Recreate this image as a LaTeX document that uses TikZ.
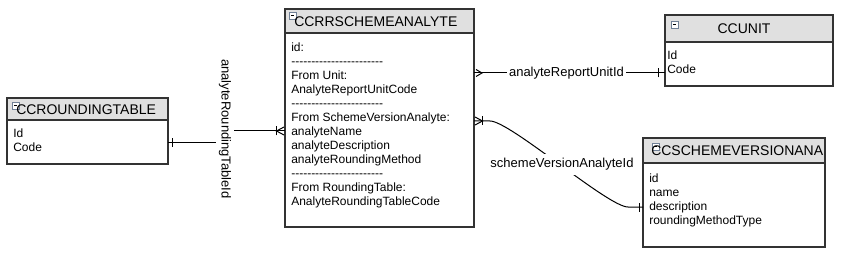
\documentclass[tikz,border=0pt]{standalone}
\usepackage{fontspec}
\setmainfont{Liberation Sans}
\usetikzlibrary{calc}
\definecolor{iconedge}{RGB}{112,128,150}
\newcommand\hy{-\kern0pt}
\newcommand\dashrow{\hy\hy\hy\hy\hy\hy\hy\hy\hy\hy\hy\hy\hy\hy\hy\hy\hy\hy\hy\hy\hy\hy\hy}
\tikzset{
 ent/.style={draw=black!80, line width=0.8pt, fill=white, inner sep=0pt, outer sep=0pt, anchor=north west},
 hdr/.style={ent, fill=black!12},
 htext/.style={font=\fontsize{10.5}{12}\selectfont, inner sep=0pt},
 ftext/.style={font=\fontsize{9}{10}\selectfont, inner sep=0pt, anchor=base west},
 conn/.style={draw=black, line width=0.75pt},
 lbl/.style={font=\fontsize{9.75}{11}\selectfont, fill=white, inner sep=1.5pt},
 pics/manyend/.style={code={\draw[conn] (2,-3.5) -- (8,0) -- (2,3.5);}},
 pics/onemanyend/.style={code={\draw[conn] (1,-4) -- (8.5,0) -- (1,4); \draw[conn] (8.5,-4.5) -- (8.5,4.5);}},
 pics/oneend/.style={code={\draw[conn] (#1,-4.5) -- (#1,4.5);}},
 pics/tgl/.style={code={\draw[draw=iconedge, fill=white, line width=0.5pt] (0,0) rectangle (7,7); \draw[line width=0.7pt] (1.8,3.5) -- (5.2,3.5);}},
}
\begin{document}
\begin{tikzpicture}[x=0.75pt,y=-0.75pt]
\useasboundingbox (0,0) rectangle (842,267);

% ---------- entities ----------
\node[ent, minimum width=161*0.75pt, minimum height=66*0.75pt] (rt) at (7,98) {};
\node[hdr, minimum width=161*0.75pt, minimum height=22*0.75pt] (rt-h) at (7,98) {};
\pic at (12,102) {tgl};
\node[htext, anchor=west] (rt-t) at (16,110) {CCROUNDINGTABLE};
\foreach \t [count=\i] in {Id,Code}
  \node[ftext] (rt-f\i) at (13,{137.3+14*(\i-1)}) {\t};

\node[ent, minimum width=189*0.75pt, minimum height=218*0.75pt] (sa) at (285,9) {};
\node[hdr, minimum width=189*0.75pt, minimum height=24*0.75pt] (sa-h) at (285,9) {};
\pic at (289,12) {tgl};
\node[htext, anchor=west] (sa-t) at (294,21.5) {CCRRSCHEMEANALYTE};
\foreach \t [count=\i] in {id:,\dashrow,From Unit:,AnalyteReportUnitCode,\dashrow,From SchemeVersionAnalyte:,analyteName,analyteDescription,analyteRoundingMethod,\dashrow,From RoundingTable:,AnalyteRoundingTableCode}
  \node[ftext] (sa-f\i) at (291,{51.3+14*(\i-1)}) {\t};

\node[ent, minimum width=168*0.75pt, minimum height=71*0.75pt] (un) at (665,15) {};
\node[hdr, minimum width=168*0.75pt, minimum height=27*0.75pt] (un-h) at (665,15) {};
\pic at (671,21) {tgl};
\node[htext] (un-t) at (744,29) {CCUNIT};
\foreach \t [count=\i] in {Id,Code}
  \node[ftext] (un-f\i) at (667,{59.3+14*(\i-1)}) {\t};

\node[ent, minimum width=182*0.75pt, minimum height=109*0.75pt] (sv) at (643,138) {};
\node[hdr, minimum width=182*0.75pt, minimum height=25*0.75pt] (sv-h) at (643,138) {};
\pic at (652,143) {tgl};
\node[htext, anchor=west] (sv-t) at (651,151) {CCSCHEMEVERSIONANA};
\foreach \t [count=\i] in {id,name,description,roundingMethodType}
  \node[ftext] (sv-f\i) at (649,{182.3+14*(\i-1)}) {\t};

% ---------- connector end points ----------
\coordinate (p1) at ($(rt.east)+(0,12)$);
\coordinate (p2) at ($(sa.west)+(0,13)$);
\coordinate (p3) at ($(sa.east)+(0,-45)$);
\coordinate (p4) at (un.west |- p3);
\coordinate (p5) at ($(sa.east)+(0,3)$);
\coordinate (p6) at ($(sv.west)+(0,14.5)$);
\coordinate (j1) at (225,0);

% ---------- connectors ----------
\draw[conn] (p1) -- (j1 |- p1) -- (j1 |- p2) -- (p2);
\draw[conn] (p3) -- (p4);
\draw[conn] (p5) -- ++(16,0) .. controls ++(20,0) and ($(p6)+(-35,0)$) .. ($(p6)+(-15,0)$) -- (p6);

% ---------- end markers ----------
\path (p1) pic{oneend=4};
\path (p2) pic[rotate=180]{onemanyend};
\path (p3) pic{manyend};
\path (p4) pic[rotate=180]{oneend=6.7};
\path (p5) pic{onemanyend};
\path (p6) pic[rotate=180]{oneend=3.5};

% ---------- labels ----------
\node[lbl, rotate=-90, inner sep=2pt] (l1) at (225,129) {analyteRoundingTableId};
\node[lbl] (l2) at (566.5,73) {analyteReportUnitId};
\node[lbl, inner sep=3pt] (l3) at (562,164.5) {schemeVersionAnalyteId};
\end{tikzpicture}
\end{document}
